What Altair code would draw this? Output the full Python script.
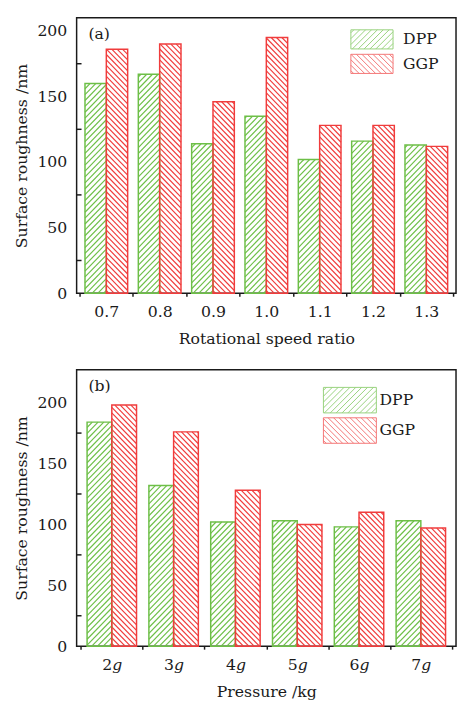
import json
import altair as alt
import pandas as pd

# ---------------- data ----------------
speed_ratio = ["0.7", "0.8", "0.9", "1.0", "1.1", "1.2", "1.3"]
dpp_speed = [160, 167, 114, 135, 102, 116, 113]
ggp_speed = [186, 190, 146, 195, 128, 128, 112]

pressure = ["2g", "3g", "4g", "5g", "6g", "7g"]
dpp_pressure = [184, 132, 102, 103, 98, 103]
ggp_pressure = [198, 176, 128, 100, 110, 97]

series = ["DPP", "GGP"]
y_tick_labels = [0, 50, 100, 150, 200]
y_minor_ticks = [25, 75, 125, 175]

# ---------------- style ----------------
GREEN = "#6dbf47"
RED = "#f03c3c"
FONT = "DejaVu Serif"
INK = "#1a1a1a"
PAD_INNER = 0.2
HALF = (1 - PAD_INNER) / 2  # width of one bar, in group units
P_GREEN = 6.0   # hatch spacing (px)
P_RED = 5.6


def make_df(cats, dpp, ggp):
    rows = []
    for i, (c, d, g) in enumerate(zip(cats, dpp, ggp)):
        rows.append({"cat": c, "idx": i, "series": "DPP", "value": d})
        rows.append({"cat": c, "idx": i, "series": "GGP", "value": g})
    return pd.DataFrame(rows)


def make_hatch(df, kx, ky):
    """Hatch segments (fill style) of each bar, derived from the bar values."""
    rows = []
    w = HALF * kx
    for rec in df.itertuples():
        rising = rec.series == "DPP"
        left = rec.idx - HALF if rising else rec.idx
        period = P_GREEN if rising else P_RED
        h = rec.value * ky
        c = period / 2
        while c < w + h:
            xa, xb = max(0.0, c - h), min(w, c)
            if xb - xa > 0.05:
                fa = (w - xa) if rising else xa
                fb = (w - xb) if rising else xb
                rows.append({"series": rec.series,
                             "hx0": left + fa / kx, "hx1": left + fb / kx,
                             "hy0": (c - xa) / ky, "hy1": (c - xb) / ky})
            c += period
    return pd.DataFrame(rows)


def legend_path(xl, xr, r, period, direction):
    f = lambda v: f"{v:.3f}"
    parts = [f"M{f(xl)},{f(-r)}H{f(xr)}V{f(r)}H{f(xl)}Z"]
    c = xl - r + period / 2
    while c < xr + r:
        lo, hi = max(xl, c - r), min(xr, c + r)
        if hi - lo > 1e-3:
            if direction == "/":
                parts.append(f"M{f(lo)},{f(c - lo)}L{f(hi)},{f(c - hi)}")
            else:
                parts.append(f"M{f(lo)},{f(lo - c)}L{f(hi)},{f(hi - c)}")
        c += period
    return "".join(parts)


def panel(cats, labels, dpp, ggp, x_title, ymax, W, H, pad_outer, tag, leg):
    df = make_df(cats, dpp, ggp)
    n = len(cats)
    lo_x = -(pad_outer + HALF)
    hi_x = n - 1 + HALF + pad_outer
    kx = W / (hi_x - lo_x)   # px per group unit
    ky = H / ymax            # px per nm
    hatch_df = make_hatch(df, kx, ky)

    is_dpp = "datum.series === 'DPP'"
    color = alt.condition(is_dpp, alt.value(GREEN), alt.value(RED))

    xs = alt.Scale(domain=[lo_x, hi_x], nice=False, zero=False)
    xaxis = alt.Axis(
        title=x_title, values=[i * 0.5 - 0.5 for i in range(2 * n + 1)],
        labelExpr=f"datum.value % 1 === 0 ? {json.dumps(labels, ensure_ascii=False)}[datum.value] : ''",
        labelOverlap=False, labelFlush=False, labelAngle=0, tickSize=3,
        tickOpacity={"condition": {"test": "datum.value % 1 === 0", "value": 0}, "value": 1},
        labelPadding=8, titlePadding=11, domain=False, grid=False)
    ys = alt.Scale(domain=[0, ymax], nice=False, zero=True)
    yaxis = alt.Axis(title="Surface roughness /nm", values=y_tick_labels,
                     ticks=False, tickSize=0, labelPadding=10,
                     titlePadding=8, domain=False, grid=False)

    hatch = (
        alt.Chart(hatch_df)
        .mark_rule(strokeWidth=1.2)
        .encode(x=alt.X("hx0:Q", scale=xs, axis=xaxis), x2="hx1:Q",
                y=alt.Y("hy0:Q", scale=ys, axis=yaxis), y2="hy1:Q",
                stroke=color)
    )

    bars = (
        alt.Chart(df)
        .transform_calculate(bx0=f"datum.idx + ({is_dpp} ? {-HALF} : 0)",
                             bx1=f"datum.bx0 + {HALF}")
        .mark_bar(filled=False, strokeWidth=1.5, orient="vertical")
        .encode(x=alt.X("bx0:Q", scale=xs, axis=xaxis), x2="bx1:Q",
                y=alt.Y("value:Q", scale=ys, axis=yaxis), y2=alt.datum(0),
                stroke=color)
    )

    minor = (
        alt.Chart(pd.DataFrame({"value": y_minor_ticks}))
        .mark_rule(color=INK, strokeWidth=1.5)
        .encode(y=alt.Y("value:Q", scale=ys, axis=yaxis),
                x=alt.value(0), x2=alt.value(5))
    )

    label = (
        alt.Chart(alt.Data(values=[{}]))
        .mark_text(text=tag, font=FONT, fontSize=16, align="left",
                   baseline="middle", color=INK)
        .encode(x=alt.value(12), y=alt.value(17))
    )

    u = leg["u"]
    xr = -1 + leg["w"] / u
    r = leg["h"] / 2 / u
    path_g = legend_path(-1, xr, r, P_GREEN / u, "/")
    path_r = legend_path(-1, xr, r, P_RED / u, "\\")
    legend = alt.Legend(title=None, orient="none", legendX=leg["x"], legendY=leg["y"],
                        symbolSize=(2 * u) ** 2, symbolStrokeWidth=1.0,
                        labelOffset=leg["lo"], rowPadding=0, padding=0,
                        labelFont=FONT, labelFontSize=16, labelColor=INK,
                        labelLimit=0)
    legend_layer = (
        alt.Chart(df)
        .transform_filter("datum.value < 0")
        .mark_point(filled=False, strokeWidth=1.0)
        .encode(
            shape=alt.Shape("series:N", scale=alt.Scale(domain=series, range=[path_g, path_r]),
                            legend=legend),
            stroke=alt.Stroke("series:N", scale=alt.Scale(domain=series, range=[GREEN, RED]),
                              legend=legend),
        )
    )

    return alt.layer(hatch, bars, minor, label, legend_layer).properties(width=W, height=H)


top = panel(speed_ratio, speed_ratio, dpp_speed, ggp_speed, "Rotational speed ratio",
            210, 387, 281, 0.065, "(a)",
            {"u": 7.75, "w": 43, "h": 19.5, "x": 279, "y": 13.5, "lo": 37})
bottom = panel(pressure, [p.replace("g", "𝑔") for p in pressure], dpp_pressure, ggp_pressure,
               "Pressure /kg", 227, 387, 282, 0.09, "(b)",
               {"u": 12.75, "w": 54, "h": 26, "x": 251, "y": 17.5, "lo": 31})

chart = (
    alt.vconcat(top, bottom, spacing=22)
    .resolve_scale(x="independent", y="independent",
                   stroke="independent", shape="independent")
    .resolve_legend(stroke="independent", shape="independent")
    .properties(padding={"left": 4, "top": 2, "right": 0, "bottom": 0})
    .configure(font=FONT)
    .configure_view(stroke=INK, strokeWidth=1.5)
    .configure_axis(labelFont=FONT, titleFont=FONT, labelFontSize=16, titleFontSize=16,
                    labelColor=INK, titleColor=INK, titleFontWeight="normal",
                    tickColor=INK, tickWidth=1.5, grid=False)
)

chart.save("out.html", embed_options={"renderer": "svg", "actions": False})
